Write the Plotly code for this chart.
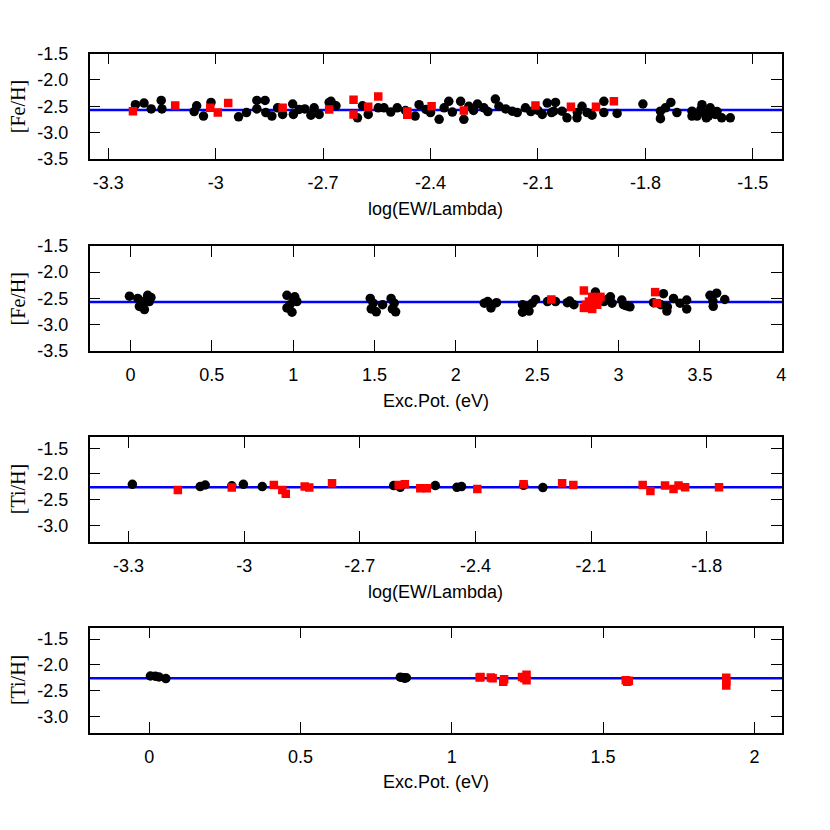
import plotly.graph_objects as go
from plotly.subplots import make_subplots

# ---------------- data ----------------
# Panel 1: [Fe/H] vs log(EW/Lambda)
fe1_logrw = [-3.224, -3.20, -3.18, -3.152, -3.15, -3.053, -3.034, -3.013, -2.936, -2.914,
             -2.885, -2.862, -2.885, -2.86, -2.843, -2.827, -2.813, -2.785, -2.783, -2.767,
             -2.751, -2.734, -2.725, -2.711, -2.683, -2.678, -2.664, -2.604, -2.59, -2.574,
             -2.546, -2.53, -2.511, -2.493, -2.443, -2.432, -2.413, -2.376, -2.362, -2.349,
             -2.339, -2.316, -2.307, -2.293, -2.269, -2.251, -2.219, -2.209, -2.19, -2.172,
             -2.158, -2.135, -2.088, -2.074, -2.062, -2.051, -2.056, -2.033, -2.019, -1.991,
             -1.977, -1.963, -1.949, -1.916, -1.916, -1.879, -1.807, -1.758, -1.758, -1.744,
             -1.729, -1.712, -1.67, -1.67, -1.656, -1.642, -1.637, -1.619, -1.624, -1.605,
             -1.587, -1.563, -2.47, -2.40, -2.28, -2.24, -2.12, -2.10, -1.99, -1.645,
             -1.60, -1.63, -3.06]
fe1_ab = [-2.47, -2.44, -2.55, -2.39, -2.55, -2.49, -2.685, -2.426, -2.70, -2.62,
          -2.39, -2.39, -2.55, -2.62, -2.685, -2.53, -2.655, -2.457, -2.655, -2.56,
          -2.55, -2.67, -2.53, -2.655, -2.426, -2.407, -2.49, -2.72, -2.49, -2.655,
          -2.53, -2.53, -2.61, -2.53, -2.685, -2.47, -2.56, -2.747, -2.53, -2.407,
          -2.61, -2.407, -2.747, -2.50, -2.457, -2.53, -2.364, -2.50, -2.55, -2.593,
          -2.62, -2.53, -2.655, -2.44, -2.62, -2.426, -2.593, -2.593, -2.72, -2.72,
          -2.50, -2.62, -2.67, -2.407, -2.62, -2.635, -2.457, -2.735, -2.593, -2.53,
          -2.426, -2.62, -2.593, -2.685, -2.685, -2.47, -2.62, -2.53, -2.685, -2.655,
          -2.72, -2.72, -2.58, -2.62, -2.58, -2.60, -2.60, -2.58, -2.62, -2.56,
          -2.60, -2.72, -2.60]
fe2_logrw = [-3.231, -3.113, -3.015, -2.994, -2.965, -2.813, -2.683, -2.615, -2.615, -2.574,
             -2.546, -2.465, -2.465, -2.397, -2.307, -2.107, -2.008, -1.938, -1.888]
fe2_ab = [-2.593, -2.487, -2.53, -2.62, -2.44, -2.53, -2.56, -2.376, -2.655, -2.51,
          -2.315, -2.60, -2.66, -2.50, -2.58, -2.487, -2.51, -2.51, -2.407]

# Panel 2: [Fe/H] vs excitation potential
fe1_ep = [-0.006, 0.045, 0.055, 0.086, 0.106, 0.116, 0.086, 0.126, 0.07, 0.10,
          0.962, 1.003, 1.023, 0.962, 0.993, 1.01, 0.98,
          1.474, 1.492, 1.48, 1.511, 1.602, 1.621, 1.61, 1.63, 1.55,
          2.175, 2.196, 2.216, 2.22, 2.25,
          2.41, 2.41, 2.44, 2.45, 2.47, 2.49, 2.43,
          2.563, 2.613, 2.685, 2.726, 2.70,
          2.858, 2.91, 2.95, 2.96, 3.02, 3.03, 3.07, 3.05, 2.93,
          3.215, 3.276, 3.297, 3.338, 3.378, 3.419, 3.419, 3.30, 3.26,
          3.562, 3.603, 3.582, 3.653, 3.58]
fe1_ab_ep = [-2.458, -2.50, -2.651, -2.712, -2.44, -2.56, -2.56, -2.48, -2.60, -2.52,
             -2.44, -2.50, -2.56, -2.68, -2.76, -2.47, -2.62,
             -2.50, -2.59, -2.70, -2.755, -2.50, -2.59, -2.70, -2.755, -2.62,
             -2.59, -2.56, -2.68, -2.62, -2.58,
             -2.62, -2.76, -2.65, -2.74, -2.59, -2.52, -2.70,
             -2.56, -2.56, -2.58, -2.62, -2.55,
             -2.38, -2.56, -2.47, -2.59, -2.53, -2.62, -2.66, -2.64, -2.52,
             -2.58, -2.41, -2.74, -2.50, -2.59, -2.53, -2.70, -2.66, -2.62,
             -2.44, -2.40, -2.65, -2.52, -2.55]
fe2_ep = [2.587, 2.787, 2.787, 2.838, 2.838, 2.889, 2.869, 2.818, 2.80, 2.85, 2.875,
          3.225, 3.235]
fe2_ab_ep = [-2.52, -2.35, -2.68, -2.47, -2.70, -2.47, -2.62, -2.56, -2.62, -2.55, -2.52,
             -2.38, -2.59]

# Panel 3: [Ti/H] vs log(EW/Lambda)
ti1_logrw = [-3.290, -3.114, -3.101, -3.032, -3.002, -2.953, -2.612, -2.595, -2.504, -2.448,
             -2.436, -2.275, -2.225]
ti1_ab = [-2.20, -2.245, -2.214, -2.23, -2.20, -2.245, -2.226, -2.258, -2.226, -2.258,
          -2.245, -2.22, -2.264]
ti2_logrw = [-3.172, -3.032, -2.923, -2.901, -2.892, -2.843, -2.831, -2.772, -2.599, -2.583,
             -2.543, -2.526, -2.395, -2.275, -2.175, -2.146, -1.966, -1.946, -1.908, -1.886,
             -1.873, -1.856, -1.768]
ti2_ab = [-2.31, -2.264, -2.214, -2.31, -2.385, -2.245, -2.264, -2.18, -2.214, -2.20,
          -2.276, -2.276, -2.29, -2.20, -2.18, -2.214, -2.214, -2.33, -2.226, -2.29,
          -2.226, -2.258, -2.258]

# Panel 4: [Ti/H] vs excitation potential
ti1_ep = [0.004, 0.02, 0.032, 0.055, 0.83, 0.84, 0.85, 0.845]
ti1_ab_ep = [-2.216, -2.22, -2.235, -2.265, -2.24, -2.25, -2.25, -2.26]
ti2_ep = [1.092, 1.095, 1.129, 1.135, 1.173, 1.17, 1.232, 1.247, 1.247, 1.24,
          1.575, 1.585, 1.58, 1.907, 1.907, 1.907]
ti2_ab_ep = [-2.247, -2.235, -2.247, -2.26, -2.278, -2.33, -2.235, -2.19, -2.30, -2.26,
             -2.30, -2.31, -2.33, -2.25, -2.33, -2.40]

fe_mean = -2.57
ti_mean = -2.26

# tick labels
x1_ticks = [-3.3, -3.0, -2.7, -2.4, -2.1, -1.8, -1.5]
x1_text = ["-3.3", "-3", "-2.7", "-2.4", "-2.1", "-1.8", "-1.5"]
x2_ticks = [0, 0.5, 1, 1.5, 2, 2.5, 3, 3.5, 4]
x2_text = ["0", "0.5", "1", "1.5", "2", "2.5", "3", "3.5", "4"]
x3_ticks = [-3.3, -3.0, -2.7, -2.4, -2.1, -1.8]
x3_text = ["-3.3", "-3", "-2.7", "-2.4", "-2.1", "-1.8"]
x4_ticks = [0, 0.5, 1, 1.5, 2]
x4_text = ["0", "0.5", "1", "1.5", "2"]
yfe_ticks = [-1.5, -2.0, -2.5, -3.0, -3.5]
yfe_text = ["-1.5", "-2.0", "-2.5", "-3.0", "-3.5"]
yti_ticks = [-1.5, -2.0, -2.5, -3.0]
yti_text = ["-1.5", "-2.0", "-2.5", "-3.0"]

# ---------------- figure ----------------
OFF = 8            # page body margin of the html page
W = 830 - OFF
H = 830 - 2 * OFF
fig = make_subplots(rows=4, cols=1)

def pts(x, y, row, red):
    if red:
        m = dict(symbol="square", size=8.5, color="#FF0000", line=dict(width=0))
    else:
        m = dict(symbol="circle", size=9.5, color="#000000", line=dict(width=0))
    fig.add_trace(go.Scatter(x=x, y=y, mode="markers", marker=m, showlegend=False,
                             hoverinfo="skip"), row=row, col=1)

pts(fe1_logrw, fe1_ab, 1, False)
pts(fe2_logrw, fe2_ab, 1, True)
pts(fe1_ep, fe1_ab_ep, 2, False)
pts(fe2_ep, fe2_ab_ep, 2, True)
pts(ti1_logrw, ti1_ab, 3, False)
pts(ti2_logrw, ti2_ab, 3, True)
pts(ti1_ep, ti1_ab_ep, 4, False)
pts(ti2_ep, ti2_ab_ep, 4, True)

for r, m in [(1, fe_mean), (2, fe_mean), (3, ti_mean), (4, ti_mean)]:
    fig.add_hline(y=m, line=dict(color="#0000FF", width=2.5), layer="below", row=r, col=1)

font_ticks = dict(family="Liberation Sans", size=18, color="black")
ax_common = dict(showline=True, linecolor="black", linewidth=1.5, mirror="allticks",
                 ticks="inside", ticklen=11, tickwidth=1.3, tickcolor="black",
                 showgrid=False, zeroline=False, tickfont=font_ticks, tickmode="array")

def px_x(p):
    return (p - OFF) / W

def px_y(p):
    return 1 - (p - OFF) / H

xdom = [px_x(90), px_x(786)]
# box pixel extents (top, bottom) in the 830x830 window
boxes = [(44.5, 152.5), (241.5, 349.5), (437.3, 545.0), (633.0, 740.7)]
ydoms = [[px_y(b), px_y(t)] for t, b in boxes]

xranges = [[-3.352, -1.418], [-0.251, 4.006], [-3.401, -1.604], [-0.197, 2.092]]
yranges = [[-3.5, -1.5], [-3.5, -1.5], [-3.316, -1.278], [-3.316, -1.278]]
xt = [(x1_ticks, x1_text), (x2_ticks, x2_text), (x3_ticks, x3_text), (x4_ticks, x4_text)]
yt = [(yfe_ticks, yfe_text), (yfe_ticks, yfe_text), (yti_ticks, yti_text), (yti_ticks, yti_text)]

for i in range(4):
    sfx = "" if i == 0 else str(i + 1)
    fig.layout["xaxis" + sfx].update(domain=xdom, range=xranges[i], tickvals=xt[i][0],
                                     ticktext=xt[i][1], ticklabelstandoff=7, **ax_common)
    fig.layout["yaxis" + sfx].update(domain=ydoms[i], range=yranges[i], tickvals=yt[i][0],
                                     ticktext=yt[i][1], ticklabelstandoff=16, **ax_common)

xtitles = ["log(EW/Lambda)", "Exc.Pot. (eV)", "log(EW/Lambda)", "Exc.Pot. (eV)"]
ytitles = ["[Fe/H]", "[Fe/H]", "[Ti/H]", "[Ti/H]"]
ann = []
for i, (t, b) in enumerate(boxes):
    ann.append(dict(text=xtitles[i], xref="paper", yref="paper", x=(xdom[0] + xdom[1]) / 2,
                    y=px_y(b + 51), xanchor="center", yanchor="middle", showarrow=False,
                    font=dict(family="Liberation Sans", size=18, color="black")))
    ann.append(dict(text=ytitles[i], xref="paper", yref="paper", x=px_x(18),
                    y=px_y((t + b) / 2), xanchor="center", yanchor="middle",
                    showarrow=False, textangle=-90,
                    font=dict(family="Liberation Serif", size=20, color="black")))

fig.update_layout(width=W, height=H, autosize=False, margin=dict(l=0, r=0, t=0, b=0),
                  paper_bgcolor="white", plot_bgcolor="white", annotations=ann)

fig.write_html("out.html")
